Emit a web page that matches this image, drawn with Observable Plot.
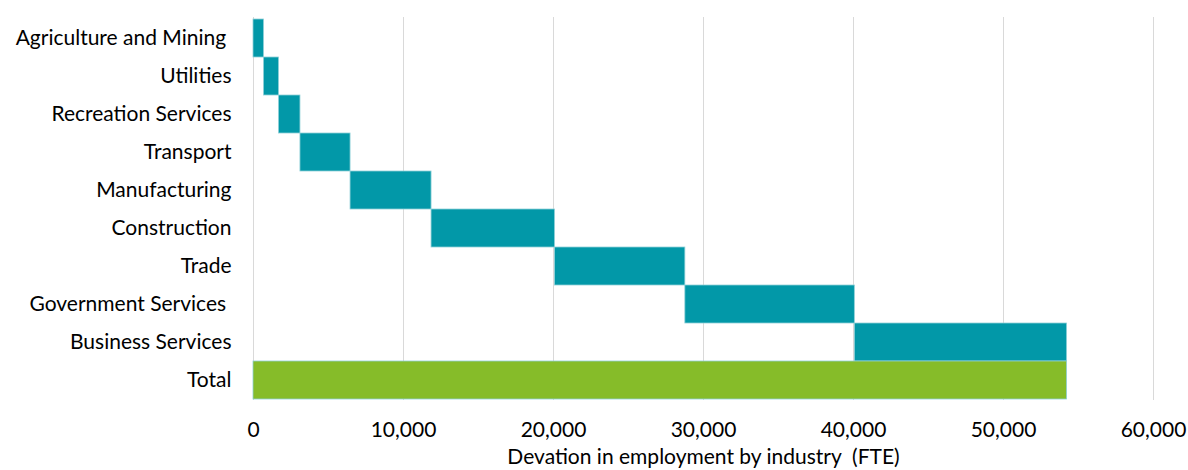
<!DOCTYPE html>
<html>
<head>
<meta charset="utf-8">
<script src="https://cdn.jsdelivr.net/npm/d3@7"></script>
<script src="https://cdn.jsdelivr.net/npm/@observablehq/plot@0.6"></script>
<style>
  html, body { margin: 0; padding: 0; background: #fff; }
  #chart svg { font-family: Lato, "Open Sans", sans-serif; }
</style>
</head>
<body>
<div id="chart"></div>
<script>
const industries = [
  "Agriculture and Mining\u00a0",
  "Utilities",
  "Recreation Services",
  "Transport",
  "Manufacturing",
  "Construction",
  "Trade",
  "Government Services\u00a0",
  "Business Services"
];
const increments = [700, 1000, 1430, 3340, 5400, 8230, 8690, 11300, 14150];
const totalLabel = "Total";
const xTicks = [0, 10000, 20000, 30000, 40000, 50000, 60000];
const xTitle = "Devation in employment by industry\u00a0 (FTE)";

const rows = [];
let run = 0;
industries.forEach((name, i) => {
  rows.push({name, x1: run, x2: run + increments[i], kind: "step"});
  run += increments[i];
});
rows.push({name: totalLabel, x1: 0, x2: run, kind: "total"});
const order = rows.map(d => d.name);

const chart = Plot.plot({
  width: 1188,
  height: 470,
  marginLeft: 253,
  marginRight: 35,
  marginTop: 17,
  marginBottom: 70,
  style: {fontSize: "21px", color: "#000", background: "#fff"},
  x: {domain: [0, 60000], ticks: xTicks, tickFormat: d3.format(","), label: null},
  y: {domain: order, paddingInner: 0, paddingOuter: 0, label: null},
  color: {domain: ["step", "total"], range: ["#0298a8", "#86bc29"]},
  marks: [
    Plot.gridX(xTicks, {stroke: "#d9d9d9", strokeOpacity: 1, strokeWidth: 1}),
    Plot.barX(rows, {y: "name", x1: "x1", x2: "x2", fill: "kind", stroke: "#8fd0d8", strokeWidth: 0.8, inset: 0}),
    Plot.axisX(xTicks, {tickSize: 0, tickPadding: 22, tickFormat: d3.format(","), fontSize: 21, label: null}),
    Plot.axisY(order, {tickSize: 0, tickPadding: 22, fontSize: 21, label: null}),
    Plot.text([xTitle], {frameAnchor: "bottom", dy: 57, fontSize: 21, fill: "#000", lineAnchor: "middle"})
  ]
});
document.getElementById("chart").appendChild(chart);
</script>
</body>
</html>
